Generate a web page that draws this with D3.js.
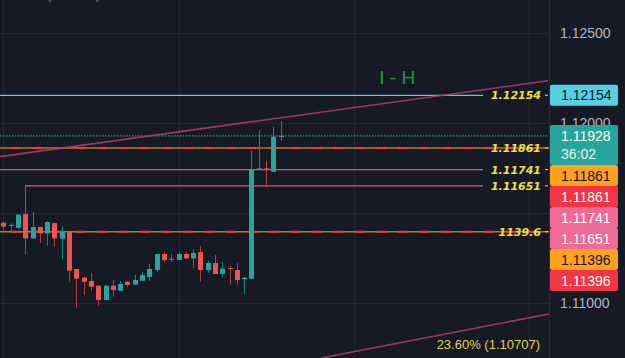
<!DOCTYPE html>
<html>
<head>
<meta charset="utf-8">
<script src="https://cdn.jsdelivr.net/npm/d3@7"></script>
<style>
body { margin: 0; background: #161a25; overflow: hidden; }
svg { display: block; }
</style>
</head>
<body>
<svg id="chart" width="625" height="358"></svg>
<script>
// candles, oldest first
var opens  = [1.11446,1.11434,1.11418,1.11494,1.11359,1.11422,1.11387,1.11444,1.11357,1.11394,
              1.11189,1.11141,1.11122,1.11096,1.11017,1.11096,1.11068,1.11118,1.11102,1.11124,
              1.11144,1.11183,1.11272,1.11246,1.11239,1.11272,1.11248,1.11283,1.11183,1.11222,
              1.11161,1.11194,1.11183,1.11132,1.11135,1.11739,1.11748,1.11729,1.11924];
var highs  = [1.11452,1.11443,1.11494,1.11651,1.11506,1.11423,1.11454,1.11447,1.11428,1.11406,
              1.11189,1.11146,1.11167,1.11100,1.11100,1.11129,1.11122,1.11122,1.11156,1.11171,
              1.11217,1.11272,1.11283,1.11272,1.11283,1.11283,1.11300,1.11317,1.11235,1.11267,
              1.11229,1.11206,1.11222,1.11141,1.11846,1.11961,1.11789,1.11979,1.12011];
var lows   = [1.11402,1.11396,1.11409,1.11272,1.11357,1.11332,1.11318,1.11313,1.11244,1.11115,
              1.10974,1.11044,1.11068,1.10983,1.11017,1.11035,1.11068,1.11091,1.11102,1.11124,
              1.11124,1.11172,1.11224,1.11228,1.11239,1.11244,1.11194,1.11118,1.11168,1.11161,
              1.11146,1.11102,1.11102,1.11048,1.11133,1.11739,1.11643,1.11729,1.11902];
var closes = [1.11424,1.11431,1.11491,1.11359,1.11422,1.11387,1.11450,1.11359,1.11394,1.11179,
              1.11135,1.11118,1.11091,1.11017,1.11096,1.11072,1.11106,1.11100,1.11128,1.11156,
              1.11189,1.11272,1.11239,1.11243,1.11272,1.11248,1.11278,1.11183,1.11222,1.11161,
              1.11191,1.11191,1.11128,1.11141,1.11743,1.11748,1.11739,1.11924,1.11928];

var gridPrices = [1.125, 1.12, 1.115, 1.11];
var priceTicks = [1.125, 1.12, 1.11];   // 1.115 sits under the label stack
var timeGrid = [0, 24, 48, 72];

// horizontal levels
var levelPrices = [1.12154, 1.11741, 1.11651];
var levelColors = ["#4dd0e1", "#e0577f", "#e0577f"];
var levelStart = [-1, -1, 3];
var dashedPrices = [1.11861, 1.11396];
var lastPrice = 1.11928;
var countdown = "36:02";

// yellow tags on the right of the levels
var tagTexts  = ["1.12154", "1.11861", "1.11741", "1.11651", "1139.6"];
var tagPrices = [1.12154, 1.11861, 1.11741, 1.11651, 1.11396];

// price scale labels
var boxPrices = [1.12154, 1.11928, 1.11861, 1.11861, 1.11741, 1.11651, 1.11396, 1.11396];
var boxColors = ["#55d1e3", "#26a69a", "#ffa01e", "#f23645", "#f06a98", "#f06a98", "#ffa01e", "#f23645"];
var boxInk    = ["#131722", "#ffffff", "#131722", "#ffffff", "#ffffff", "#ffffff", "#131722", "#ffffff"];

// trend lines [index, price]
var trendUpper = [[-0.45, 1.11813], [74.6, 1.12235]];
var trendLower = [[43.5, 1.10694], [74.75, 1.10939]];
var fibText = "23.60% (1.10707)";
var noteText = "I - H";

var svg = d3.select("#chart");
var width = 625, height = 358;
var axisX = 549;

var x = d3.scaleLinear().domain([0, 75]).range([3.3, 550.8]);
var y = d3.scaleLinear().domain([1.125, 1.11]).range([33, 303]);

svg.append("rect").attr("width", width).attr("height", height).attr("fill", "#161a25");

svg.append("defs").append("clipPath").attr("id", "plot")
    .append("rect").attr("x", 0).attr("y", 0).attr("width", axisX).attr("height", height);

var plot = svg.append("g").attr("clip-path", "url(#plot)");

// grid
plot.append("g").selectAll("line").data(gridPrices).enter().append("line")
    .attr("x1", 0).attr("x2", axisX)
    .attr("y1", function(d) { return Math.round(y(d)) + 0.5; })
    .attr("y2", function(d) { return Math.round(y(d)) + 0.5; })
    .attr("stroke", "#232733");
plot.append("g").selectAll("line").data(timeGrid).enter().append("line")
    .attr("x1", function(d) { return Math.round(x(d)) + 0.5; })
    .attr("x2", function(d) { return Math.round(x(d)) + 0.5; })
    .attr("y1", 0).attr("y2", height)
    .attr("stroke", "#232733");

// price axis
svg.append("line").attr("x1", axisX + 0.5).attr("x2", axisX + 0.5).attr("y1", 0).attr("y2", height)
    .attr("stroke", "#2a2e39");
var yAxis = svg.append("g")
    .attr("transform", "translate(" + axisX + ",0)")
    .call(d3.axisRight(y).tickValues(priceTicks).tickFormat(d3.format(".5f")).tickSize(0).tickPadding(11));
yAxis.select(".domain").remove();
yAxis.selectAll("text")
    .attr("fill", "#b2b5be")
    .attr("font-family", "'Liberation Sans', Arial, sans-serif")
    .attr("font-size", 14);

// last price dotted line
plot.append("line")
    .attr("x1", 0).attr("x2", axisX)
    .attr("y1", y(lastPrice)).attr("y2", y(lastPrice))
    .attr("stroke", "#26a69a").attr("stroke-width", 1.3)
    .attr("stroke-dasharray", "1.4 1.6");

// solid levels
plot.append("g").selectAll("line").data(levelPrices).enter().append("line")
    .attr("x1", function(d, i) { return levelStart[i] < 0 ? 0 : x(levelStart[i]); })
    .attr("x2", 483)
    .attr("y1", function(d) { return y(d); })
    .attr("y2", function(d) { return y(d); })
    .attr("stroke", function(d, i) { return levelColors[i]; })
    .attr("stroke-width", 1.3);

// orange + red dashed levels
var dl = plot.append("g").selectAll("g").data(dashedPrices).enter().append("g");
dl.append("line")
    .attr("x1", 0).attr("x2", axisX)
    .attr("y1", function(d) { return y(d); })
    .attr("y2", function(d) { return y(d); })
    .attr("stroke", "#b67b1c").attr("stroke-width", 1.4);
dl.append("line")
    .attr("x1", 0).attr("x2", axisX)
    .attr("y1", function(d) { return y(d); })
    .attr("y2", function(d) { return y(d); })
    .attr("stroke", "#f23645").attr("stroke-width", 2)
    .attr("stroke-dasharray", "10 11.5")
    .attr("stroke-dashoffset", -11);

// candles
var candles = d3.range(opens.length).map(function(i) {
    return {i: i, o: opens[i], h: highs[i], l: lows[i], c: closes[i]};
});
var cg = plot.append("g").selectAll("g").data(candles).enter().append("g");
cg.append("line")
    .attr("x1", function(d) { return Math.round(x(d.i)) + 0.5; })
    .attr("x2", function(d) { return Math.round(x(d.i)) + 0.5; })
    .attr("y1", function(d) { return y(d.h); })
    .attr("y2", function(d) { return y(d.l); })
    .attr("stroke", function(d) { return d.c >= d.o ? "#1d8279" : "#b0403f"; })
    .attr("stroke-width", 1);
cg.append("rect")
    .attr("x", function(d) { return Math.round(x(d.i)) - 2; })
    .attr("width", 5)
    .attr("y", function(d) { return y(Math.max(d.o, d.c)); })
    .attr("height", function(d) { return Math.max(1, Math.abs(y(d.o) - y(d.c))); })
    .attr("fill", function(d) { return d.c >= d.o ? "#26a69a" : "#ef5350"; });

// trend lines
var line = d3.line().x(function(d) { return x(d[0]); }).y(function(d) { return y(d[1]); });
[trendUpper, trendLower].forEach(function(t) {
    plot.append("path").attr("d", line(t))
        .attr("fill", "none").attr("stroke", "#b2376f").attr("stroke-width", 1.6)
        .attr("stroke-opacity", 0.9);
});

// yellow tags
var tg = svg.append("g").selectAll("g").data(tagPrices).enter().append("g");
tg.append("text")
    .attr("x", 541)
    .attr("y", function(d) { return y(d); })
    .attr("dy", "0.36em")
    .attr("text-anchor", "end")
    .attr("font-family", "'DejaVu Sans', sans-serif")
    .attr("font-size", 11)
    .attr("font-weight", "bold")
    .attr("font-style", "italic")
    .attr("fill", "#f2e03c")
    .text(function(d, i) { return tagTexts[i]; });
tg.append("line")
    .attr("x1", 545).attr("x2", 548)
    .attr("y1", function(d) { return y(d); })
    .attr("y2", function(d) { return y(d); })
    .attr("stroke", "#d1d4dc").attr("stroke-width", 1);

// fib label
svg.append("text")
    .attr("x", 540).attr("y", 349)
    .attr("text-anchor", "end")
    .attr("font-family", "'Liberation Sans', Arial, sans-serif")
    .attr("font-size", 13)
    .attr("fill", "#e3cf4f")
    .text(fibText);

// handwritten note
svg.append("text")
    .attr("x", x(51.5)).attr("y", y(1.12217))
    .attr("font-family", "'Liberation Sans', Arial, sans-serif")
    .attr("font-size", 19)
    .attr("fill", "#1f9a2a")
    .text(noteText);

// legend remnant at the top
svg.append("text")
    .attr("x", 47).attr("y", -1)
    .attr("font-family", "'Liberation Sans', Arial, sans-serif")
    .attr("font-size", 13)
    .attr("fill", "#26a69a")
    .text("(+0.25%)");

// price scale boxes, stacked downwards like the platform does
var boxes = [], prevBottom = -100;
boxPrices.forEach(function(p, i) {
    var h = (p == lastPrice) ? 40 : 21;
    var top = (p == lastPrice) ? y(p) - 11 : y(p) - h / 2;
    top = Math.max(top, prevBottom);
    boxes.push({p: p, top: top, h: h, i: i});
    prevBottom = top + h;
});
var bg = svg.append("g").selectAll("g").data(boxes).enter().append("g");
bg.append("rect")
    .attr("x", axisX + 1).attr("width", 68)
    .attr("y", function(d) { return d.top; })
    .attr("height", function(d) { return d.h; })
    .attr("rx", 2)
    .attr("fill", function(d) { return boxColors[d.i]; });
bg.append("text")
    .attr("x", 561)
    .attr("y", function(d) { return d.top + 10.5; })
    .attr("dy", "0.36em")
    .attr("font-family", "'Liberation Sans', Arial, sans-serif")
    .attr("font-size", 14)
    .attr("fill", function(d) { return boxInk[d.i]; })
    .text(function(d) { return d3.format(".5f")(d.p); });
bg.filter(function(d) { return d.p == lastPrice; }).append("text")
    .attr("x", 561)
    .attr("y", function(d) { return d.top + 28.5; })
    .attr("dy", "0.36em")
    .attr("font-family", "'Liberation Sans', Arial, sans-serif")
    .attr("font-size", 14)
    .attr("fill", "#e8f5f3")
    .text(countdown);
</script>
</body>
</html>
